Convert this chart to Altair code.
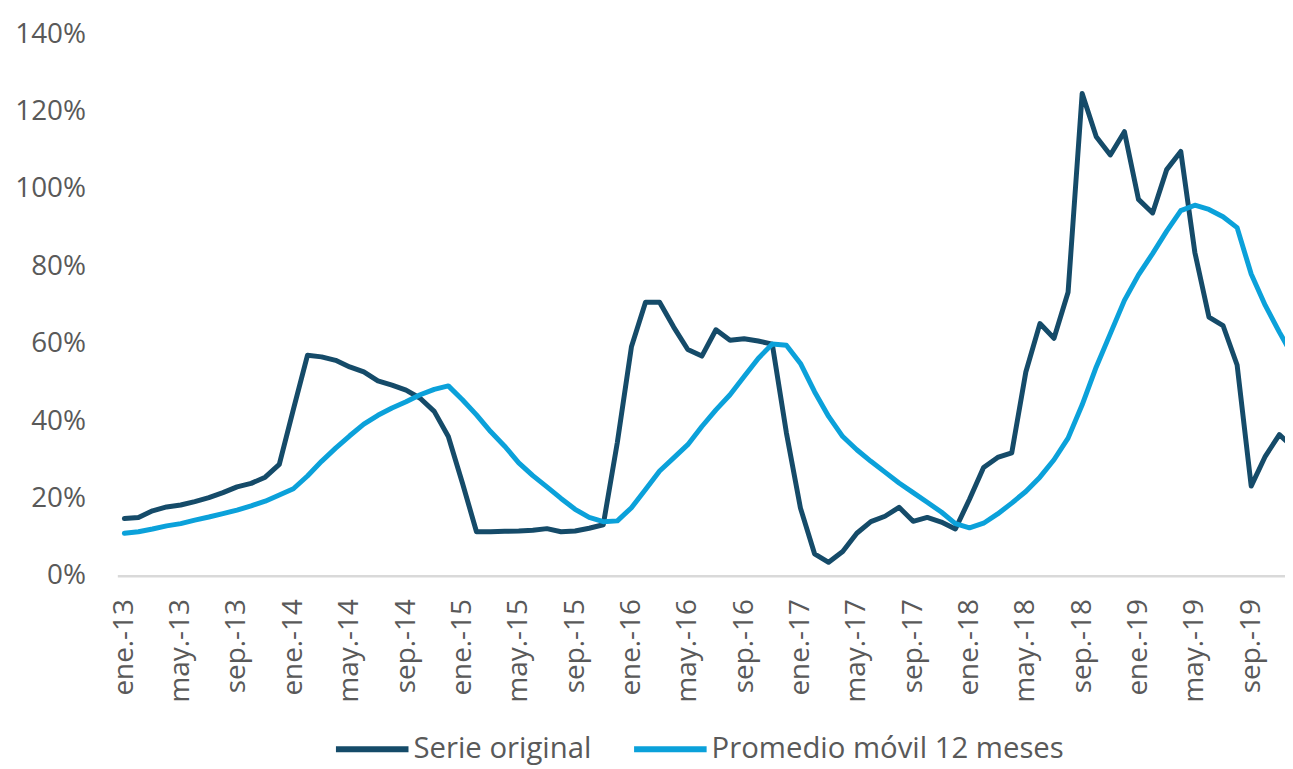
import altair as alt
import pandas as pd

# ---- data ----
mes_abrev = ["ene.", "feb.", "mar.", "abr.", "may.", "jun.",
             "jul.", "ago.", "sep.", "oct.", "nov.", "dic."]
anios = ["13", "14", "15", "16", "17", "18", "19"]
meses = [m + "-" + a for a in anios for m in mes_abrev]

serie_original = [
    14.8, 15.1, 16.8, 17.8, 18.3, 19.2, 20.2, 21.5, 23.0, 23.9, 25.5, 28.8,
    43.0, 57.0, 56.6, 55.7, 54.0, 52.7, 50.4, 49.3, 48.0, 45.9, 42.5, 36.0,
    24.0, 11.4, 11.4, 11.5, 11.6, 11.8, 12.2, 11.4, 11.6, 12.3, 13.2, 34.5,
    59.2, 70.7, 70.7, 64.3, 58.5, 56.8, 63.6, 60.9, 61.3, 60.7, 59.9, 37.0,
    17.5, 5.7, 3.5, 6.3, 11.0, 14.0, 15.4, 17.7, 14.1, 15.1, 13.9, 12.1,
    19.8, 28.0, 30.6, 31.8, 52.7, 65.2, 61.4, 73.3, 124.7, 113.5, 108.8, 114.8,
    97.3, 93.8, 105.0, 109.7, 83.6, 66.9, 64.7, 54.5, 23.2, 30.9, 36.5, 33.1,
]

promedio_movil = [
    11.0, 11.4, 12.1, 12.9, 13.5, 14.4, 15.2, 16.1, 17.0, 18.1, 19.3, 20.9,
    22.5, 25.8, 29.6, 33.0, 36.2, 39.2, 41.5, 43.4, 45.0, 46.8, 48.2, 49.1,
    45.5, 41.6, 37.3, 33.5, 29.2, 25.9, 23.0, 20.0, 17.2, 15.1, 14.0, 14.2,
    17.6, 22.3, 27.1, 30.5, 33.9, 38.6, 42.9, 46.8, 51.5, 56.2, 59.9, 59.6,
    54.9, 47.6, 41.2, 36.0, 32.6, 29.6, 26.8, 24.0, 21.5, 19.0, 16.5, 13.5,
    12.4, 13.6, 16.0, 18.8, 21.8, 25.5, 30.0, 35.6, 44.2, 54.0, 62.6, 71.2,
    77.8, 83.3, 89.1, 94.4, 95.8, 94.7, 92.8, 90.0, 78.0, 69.9, 63.0, 56.5,
]

series_names = ["Serie original", "Promedio móvil 12 meses"]
series_colors = ["#154b69", "#0ba1da"]
y_ticks = [0, 20, 40, 60, 80, 100, 120, 140]
x_ticks = list(range(0, len(meses), 4))

rows = []
for name, vals in zip(series_names, [serie_original, promedio_movil]):
    for i, (m, v) in enumerate(zip(meses, vals)):
        rows.append({"idx": i, "mes": m, "serie": name, "valor": v})
df = pd.DataFrame(rows)

label_array = "[" + ",".join("'" + m + "'" for m in meses) + "]"

FONT = "Open Sans"
GRAY = "#595959"

chart = alt.Chart(df).mark_line(
    strokeWidth=5, strokeCap="round", strokeJoin="round", clip=True
).encode(
    x=alt.X(
        "idx:Q",
        scale=alt.Scale(domain=[-0.5, 82.4], nice=False, zero=False),
        axis=alt.Axis(
            title=None,
            values=x_ticks,
            labelExpr=label_array + "[datum.value]",
            labelAngle=-90,
            labelAlign="right",
            labelBaseline="middle",
            labelPadding=23,
            labelFont=FONT,
            labelFontSize=28,
            labelColor=GRAY,
            labelOverlap=False,
            labelFlush=False,
            labelBound=False,
            ticks=False,
            tickSize=0,
            grid=False,
            domain=True,
            domainColor="#d9d9d9",
            domainWidth=2.5,
        ),
    ),
    y=alt.Y(
        "valor:Q",
        scale=alt.Scale(domain=[0, 140], nice=False, zero=True),
        axis=alt.Axis(
            title=None,
            values=y_ticks,
            labelExpr="datum.value + '%'",
            labelPadding=32,
            labelFont=FONT,
            labelFontSize=28,
            labelColor=GRAY,
            ticks=False,
            tickSize=0,
            grid=False,
            domain=False,
            labelOverlap=False,
            labelFlush=False,
        ),
    ),
    color=alt.Color(
        "serie:N",
        scale=alt.Scale(domain=series_names, range=series_colors),
        sort=series_names,
        legend=alt.Legend(
            title=None,
            orient="none",
            legendX=217,
            legendY=680,
            direction="horizontal",
            symbolType="stroke",
            symbolSize=5329,
            symbolStrokeWidth=6,
            labelFont=FONT,
            labelFontSize=29.5,
            labelColor=GRAY,
            labelOffset=2,
            labelLimit=1000,
            columnPadding=30,
            padding=0,
        ),
    ),
    order=alt.Order("idx:Q"),
).properties(
    width=1175,
    height=545,
    autosize=alt.AutoSizeParams(type="none"),
    padding={"left": 110, "top": 24, "right": 0, "bottom": 192},
).configure(
    background="white",
    font=FONT,
).configure_view(
    stroke=None,
    strokeWidth=0,
)

chart.save("out.html", embed_options={"renderer": "svg", "actions": False})
